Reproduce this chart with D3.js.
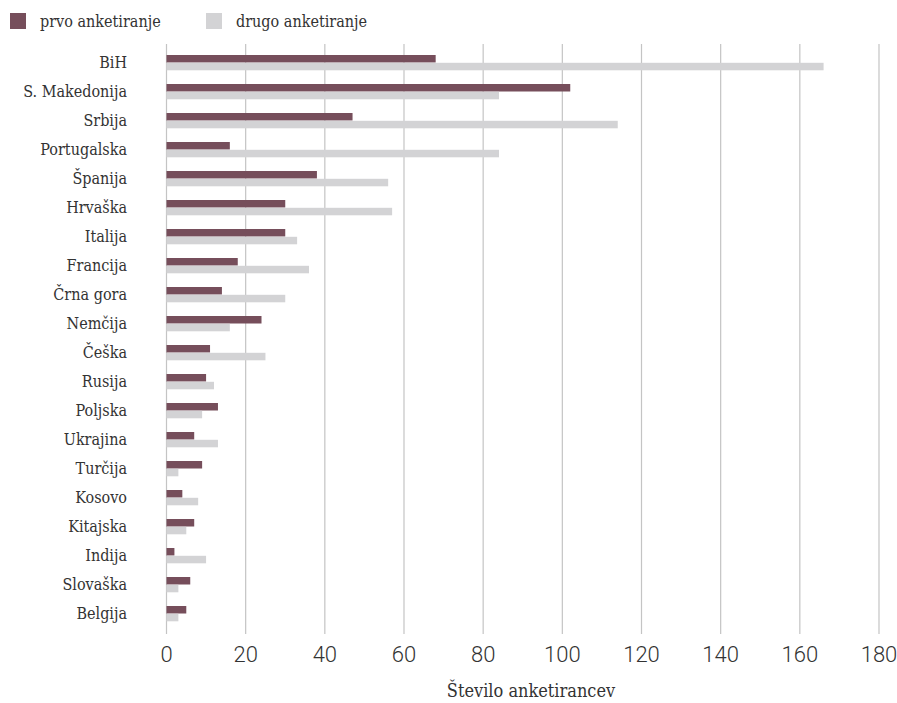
<!DOCTYPE html>
<html>
<head>
<meta charset="utf-8">
<script src="https://cdn.jsdelivr.net/npm/d3@7"></script>
<style>
  body { margin: 0; background: #fff; }
  #chart { width: 897px; height: 703px; }
</style>
</head>
<body>
<div id="chart"></div>
<script>
// Countries, top to bottom
const countries = ["BiH", "S. Makedonija", "Srbija", "Portugalska", "Španija", "Hrvaška", "Italija",
    "Francija", "Črna gora", "Nemčija", "Češka", "Rusija", "Poljska", "Ukrajina", "Turčija",
    "Kosovo", "Kitajska", "Indija", "Slovaška", "Belgija"];
const prvo = [68, 102, 47, 16, 38, 30, 30, 18, 14, 24, 11, 10, 13, 7, 9, 4, 7, 2, 6, 5];
const drugo = [166, 84, 114, 84, 56, 57, 33, 36, 30, 16, 25, 12, 9, 13, 3, 8, 5, 10, 3, 3];
const seriesNames = ["prvo anketiranje", "drugo anketiranje"];
const xTicks = [0, 20, 40, 60, 80, 100, 120, 140, 160, 180];

const width = 897, height = 703;
const colors = ["#764e5b", "#d3d3d5"];
const labelFont = "'DejaVu Serif Condensed', 'DejaVu Serif', serif";
const numFont = "Roboto, sans-serif";

const svg = d3.select("#chart").append("svg")
    .attr("width", width)
    .attr("height", height);

const x = d3.scaleLinear().domain([0, 180]).range([166.5, 879]);
const y = d3.scaleBand().domain(countries).range([48, 628]);
const barH = 7.5;

// Gridlines
svg.append("g")
    .selectAll("line")
    .data(xTicks)
    .join("line")
    .attr("x1", d => x(d)).attr("x2", d => x(d))
    .attr("y1", 44).attr("y2", 634)
    .attr("stroke", "#c4c4c4")
    .attr("stroke-width", 1.2);

// Bars
const rows = svg.append("g")
    .selectAll("g")
    .data(countries)
    .join("g")
    .attr("transform", d => `translate(0, ${y(d) + y.bandwidth() / 2})`);

rows.append("rect")
    .attr("x", x(0))
    .attr("y", -barH)
    .attr("height", barH)
    .attr("width", (d, i) => x(prvo[i]) - x(0))
    .attr("fill", colors[0]);

rows.append("rect")
    .attr("x", x(0))
    .attr("y", 0.3)
    .attr("height", barH)
    .attr("width", (d, i) => x(drugo[i]) - x(0))
    .attr("fill", colors[1]);

// Category labels
rows.append("text")
    .attr("x", 127)
    .attr("dy", "0.35em")
    .attr("text-anchor", "end")
    .style("font-family", labelFont)
    .style("font-size", "16px")
    .attr("fill", "#333")
    .text(d => d);

// X axis tick labels
svg.append("g")
    .selectAll("text")
    .data(xTicks)
    .join("text")
    .attr("x", d => x(d))
    .attr("y", 654)
    .attr("dy", "0.35em")
    .attr("text-anchor", "middle")
    .style("font-family", numFont)
    .style("font-weight", 300)
    .style("font-size", "22px")
    .attr("fill", "#333")
    .text(d => d);

// Axis title
svg.append("text")
    .attr("x", 531)
    .attr("y", 691)
    .attr("dy", "0.35em")
    .attr("text-anchor", "middle")
    .style("font-family", labelFont)
    .style("font-size", "18px")
    .attr("fill", "#333")
    .text("Število anketirancev");

// Legend
const legend = svg.append("g")
    .selectAll("g")
    .data(seriesNames)
    .join("g")
    .attr("transform", (d, i) => `translate(${10 + i * 196}, 13)`);

legend.append("rect")
    .attr("width", 16).attr("height", 16)
    .attr("fill", (d, i) => colors[i]);

legend.append("text")
    .attr("x", 30)
    .attr("y", 8)
    .attr("dy", "0.35em")
    .style("font-family", labelFont)
    .style("font-size", "16px")
    .attr("fill", "#333")
    .text(d => d);
</script>
</body>
</html>
